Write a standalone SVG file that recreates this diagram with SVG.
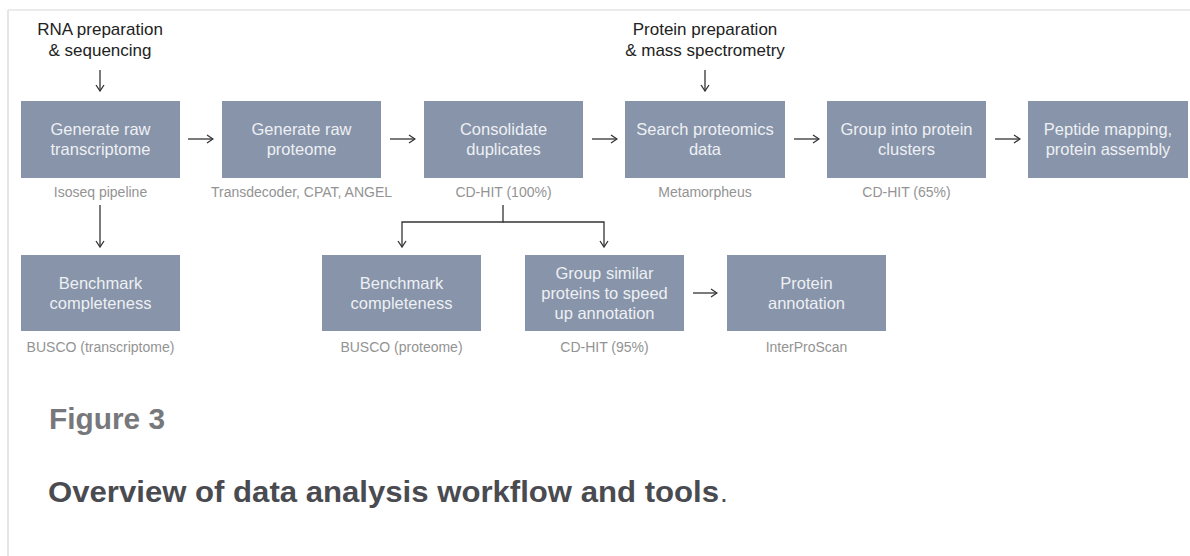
<svg xmlns="http://www.w3.org/2000/svg" width="1190" height="556" viewBox="0 0 1190 556">
<defs>
<style>
.box{fill:#8794a9}
.bt{font-family:"Liberation Sans",Arial,sans-serif;font-size:16.5px;fill:#eef0f4;text-anchor:middle}
.sub{font-family:"Liberation Sans",Arial,sans-serif;font-size:14px;fill:#939393;text-anchor:middle}
.top{font-family:"Liberation Sans",Arial,sans-serif;font-size:17px;fill:#222;text-anchor:middle}
.con{fill:none;stroke:#333;stroke-width:1.3;marker-end:url(#ah)}
</style>
<marker id="ah" viewBox="0 0 8 10" markerWidth="8" markerHeight="10" refX="7" refY="5" orient="auto" markerUnits="userSpaceOnUse">
<path d="M1,1 L7,5 L1,9" fill="none" stroke="#333" stroke-width="1.3"/>
</marker>
</defs>
<rect width="1190" height="556" fill="#fff"/>
<line x1="8" y1="10" x2="1190" y2="10" stroke="#ebebeb" stroke-width="2"/>
<line x1="8" y1="10" x2="8" y2="556" stroke="#e6e6e2" stroke-width="2"/>

<g id="lbl-rna"><text class="top" x="100" y="35">RNA preparation</text><text class="top" x="100" y="55.5">&amp; sequencing</text></g>
<g id="lbl-protein"><text class="top" x="705" y="35">Protein preparation</text><text class="top" x="705" y="55.5">&amp; mass spectrometry</text></g>

<g id="connectors">
<path class="con" d="M100,70 V91"/>
<path class="con" d="M705,70 V91"/>
<path class="con" d="M188,139 H213"/>
<path class="con" d="M390,139 H415"/>
<path class="con" d="M592,139 H617"/>
<path class="con" d="M794,139 H819"/>
<path class="con" d="M995,139 H1020"/>
<path class="con" d="M100,205 V247"/>
<path class="con" d="M503,205 V222 H402 V247"/>
<path class="con" d="M503,222 H604 V247"/>
<path class="con" d="M693,293 H717"/>
</g>

<g id="n1"><rect class="box" x="21" y="101" width="159" height="77"/><text class="bt" x="100.5" y="135">Generate raw</text><text class="bt" x="100.5" y="155">transcriptome</text><text class="sub" x="100.5" y="197">Isoseq pipeline</text></g>
<g id="n2"><rect class="box" x="222" y="101" width="159" height="77"/><text class="bt" x="301.5" y="135">Generate raw</text><text class="bt" x="301.5" y="155">proteome</text><text class="sub" x="301.5" y="197">Transdecoder, CPAT, ANGEL</text></g>
<g id="n3"><rect class="box" x="424" y="101" width="159" height="77"/><text class="bt" x="503.5" y="135">Consolidate</text><text class="bt" x="503.5" y="155">duplicates</text><text class="sub" x="503.5" y="197">CD-HIT (100%)</text></g>
<g id="n4"><rect class="box" x="625" y="101" width="160" height="77"/><text class="bt" x="705" y="135">Search proteomics</text><text class="bt" x="705" y="155">data</text><text class="sub" x="705" y="197">Metamorpheus</text></g>
<g id="n5"><rect class="box" x="827" y="101" width="159" height="77"/><text class="bt" x="906.5" y="135">Group into protein</text><text class="bt" x="906.5" y="155">clusters</text><text class="sub" x="906.5" y="197">CD-HIT (65%)</text></g>
<g id="n6"><rect class="box" x="1028" y="101" width="160" height="77"/><text class="bt" x="1108" y="135">Peptide mapping,</text><text class="bt" x="1108" y="155">protein assembly</text></g>

<g id="n7"><rect class="box" x="21" y="255" width="159" height="76"/><text class="bt" x="100.5" y="288.5">Benchmark</text><text class="bt" x="100.5" y="308.5">completeness</text><text class="sub" x="100.5" y="352">BUSCO (transcriptome)</text></g>
<g id="n8"><rect class="box" x="322" y="255" width="159" height="76"/><text class="bt" x="401.5" y="288.5">Benchmark</text><text class="bt" x="401.5" y="308.5">completeness</text><text class="sub" x="401.5" y="352">BUSCO (proteome)</text></g>
<g id="n9"><rect class="box" x="525" y="255" width="159" height="76"/><text class="bt" x="604.5" y="279">Group similar</text><text class="bt" x="604.5" y="299">proteins to speed</text><text class="bt" x="604.5" y="319">up annotation</text><text class="sub" x="604.5" y="352">CD-HIT (95%)</text></g>
<g id="n10"><rect class="box" x="727" y="255" width="159" height="76"/><text class="bt" x="806.5" y="288.5">Protein</text><text class="bt" x="806.5" y="308.5">annotation</text><text class="sub" x="806.5" y="352">InterProScan</text></g>

<g id="caption">
<text x="49" y="429" font-family="'Liberation Sans',Arial,sans-serif" font-size="29" font-weight="bold" fill="#77787b" textLength="116" lengthAdjust="spacingAndGlyphs">Figure 3</text>
<text x="48" y="502" font-family="'Liberation Sans',Arial,sans-serif" font-size="29" font-weight="bold" fill="#4a4b50" textLength="671" lengthAdjust="spacingAndGlyphs">Overview of data analysis workflow and tools</text>
<text x="720" y="502" font-family="'Liberation Sans',Arial,sans-serif" font-size="28" fill="#4a4b50">.</text>
</g>
</svg>
